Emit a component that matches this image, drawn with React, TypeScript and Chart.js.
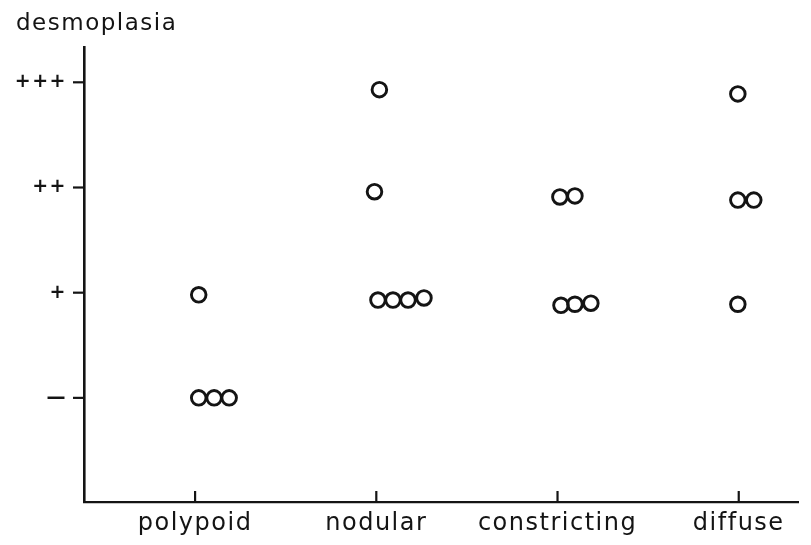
import React, { useEffect, useRef } from 'react';
import { Chart, registerables } from 'chart.js';

Chart.register(...registerables);

// ---- data ----
const categories = ['polypoid', 'nodular', 'constricting', 'diffuse'];
const levelLabels = ['—', '+', '++', '+++'];
const yAxisTitle = 'desmoplasia';
// one entry per case: horizontal position (category units) and desmoplasia grade (0 = –, 3 = +++)
const caseX = [
  0.02, 0.02, 0.105, 0.188,
  1.017, 0.99, 1.009, 1.092, 1.175, 1.263,
  2.013, 2.096, 2.019, 2.096, 2.184,
  2.995, 2.995, 3.083, 2.995,
];
const caseY = [
  0.98, 0.0, 0.0, 0.0,
  2.93, 1.96, 0.93, 0.93, 0.93, 0.95,
  1.91, 1.92, 0.88, 0.89, 0.9,
  2.89, 1.88, 1.88, 0.89,
];
const xRange = [-0.613, 3.327];
const yRange = [-0.99, 3.33];

const INK = '#141414';
const FONT = '"DejaVu Sans", Verdana, sans-serif';

const axisTicksPlugin = {
  id: 'axisTicks',
  beforeDraw(chart: any) {
    (chart.ctx as any).letterSpacing = '1.5px';
  },
  afterDraw(chart: any) {
    const { ctx, chartArea, scales } = chart;
    ctx.save();
    (ctx as any).letterSpacing = '0px';
    ctx.strokeStyle = INK;
    ctx.lineWidth = 2.2;
    categories.forEach((_, i) => {
      const x = scales.x.getPixelForValue(i);
      ctx.beginPath();
      ctx.moveTo(x, chartArea.bottom);
      ctx.lineTo(x, chartArea.bottom - 11);
      ctx.stroke();
    });
    levelLabels.forEach((_, i) => {
      const y = scales.y.getPixelForValue(i);
      ctx.beginPath();
      ctx.moveTo(chartArea.left - 11, y);
      ctx.lineTo(chartArea.left, y);
      ctx.stroke();
    });
    ctx.restore();
  },
};

export default function App() {
  const ref = useRef<HTMLCanvasElement | null>(null);

  useEffect(() => {
    if (!ref.current) return;
    const points = caseX.map((x, i) => ({ x, y: caseY[i] }));
    const chart = new Chart(ref.current, {
      type: 'scatter',
      data: {
        datasets: [
          {
            data: points,
            pointStyle: 'circle',
            pointRadius: 7.3,
            pointHoverRadius: 7.3,
            pointBorderWidth: 2.9,
            pointBorderColor: INK,
            pointBackgroundColor: 'rgba(0,0,0,0)',
          },
        ],
      },
      options: {
        responsive: false,
        animation: false,
        events: [],
        layout: { padding: { left: 16, right: 13, top: 6, bottom: 0 } },
        plugins: {
          legend: { display: false },
          tooltip: { enabled: false },
          title: {
            display: true,
            text: yAxisTitle,
            align: 'start',
            color: INK,
            font: { family: FONT, size: 23, weight: 'normal' },
            padding: { top: 4, bottom: 10 },
          },
        },
        scales: {
          x: {
            type: 'linear',
            min: xRange[0],
            max: xRange[1],
            grid: { display: false, drawTicks: false },
            border: { display: true, color: INK, width: 2.2 },
            afterBuildTicks: (scale: any) => {
              scale.ticks = categories.map((_, i) => ({ value: i }));
            },
            afterFit: (scale: any) => {
              scale.height = 43;
            },
            ticks: {
              color: INK,
              padding: 7,
              maxRotation: 0,
              autoSkip: false,
              font: { family: FONT, size: 24 },
              callback: (v: any) => categories[Math.round(Number(v))] ?? '',
            },
          },
          y: {
            type: 'linear',
            min: yRange[0],
            max: yRange[1],
            grid: { display: false, drawTicks: false },
            border: { display: true, color: INK, width: 2.6 },
            afterBuildTicks: (scale: any) => {
              scale.ticks = levelLabels.map((_, i) => ({ value: i }));
            },
            afterFit: (scale: any) => {
              scale.width = 68;
            },
            ticks: {
              color: INK,
              padding: 17,
              autoSkip: false,
              font: { family: FONT, size: 19, weight: 'bold' },
              callback: (v: any) => levelLabels[Math.round(Number(v))] ?? '',
            },
          },
        },
      },
      plugins: [axisTicksPlugin as any],
    });
    return () => chart.destroy();
  }, []);

  return (
    <div style={{ position: 'fixed', left: 0, top: 0, width: 811, height: 545, background: '#fff' }}>
      <canvas ref={ref} width={811} height={545} style={{ display: 'block' }} />
    </div>
  );
}
